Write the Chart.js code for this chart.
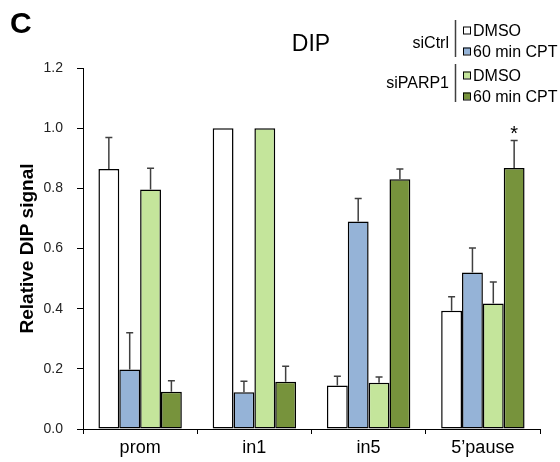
<!DOCTYPE html>
<html>
<head>
<meta charset="utf-8">
<script src="https://cdn.jsdelivr.net/npm/chart.js@4.4.1/dist/chart.umd.min.js"></script>
<style>
  html, body { margin: 0; padding: 0; background: #fff; }
  #wrap { position: relative; width: 560px; height: 462px; }
</style>
</head>
<body>
<div id="wrap"><canvas id="c"></canvas></div>
<script>
// ---- data ----
const categories = ['prom', 'in1', 'in5', '5\u2019pause'];
const seriesNames = ['DMSO', '60 min CPT', 'DMSO', '60 min CPT'];
const groupNames = ['siCtrl', 'siPARP1'];
const siCtrlDMSO = [0.864, 1.0, 0.145, 0.393];
const siCtrlCPT = [0.198, 0.122, 0.690, 0.520];
const siPARP1DMSO = [0.796, 1.0, 0.154, 0.417];
const siPARP1CPT = [0.124, 0.157, 0.830, 0.868];
const siCtrlDMSOErr = [0.105, 0, 0.030, 0.047];
const siCtrlCPTErr = [0.122, 0.037, 0.076, 0.082];
const siPARP1DMSOErr = [0.071, 0, 0.019, 0.072];
const siPARP1CPTErr = [0.036, 0.052, 0.034, 0.091];
const siPARP1CPTSig = ['', '', '', '*'];
const yTicks = [0, 0.2, 0.4, 0.6, 0.8, 1.0, 1.2];
const chartTitle = 'DIP';
const panelLabel = 'C';
const yTitle = 'Relative DIP signal';

const colors = ['#ffffff', '#95b3d7', '#c4e59b', '#77933c'];
const FONT = '"Liberation Sans", Arial, Helvetica, sans-serif';

const values = [siCtrlDMSO, siCtrlCPT, siPARP1DMSO, siPARP1CPT];
const errors = [siCtrlDMSOErr, siCtrlCPTErr, siPARP1DMSOErr, siPARP1CPTErr];
const sigs = [null, null, null, siPARP1CPTSig];

const datasets = values.map((v, i) => ({
  label: (i < 2 ? groupNames[0] : groupNames[1]) + ' ' + seriesNames[i],
  data: v,
  backgroundColor: colors[i],
  borderColor: '#000000',
  borderWidth: 1.5,
  borderSkipped: false,
  barPercentage: 1.0,
  categoryPercentage: 0.73
}));

const extrasPlugin = {
  id: 'extras',
  afterDatasetsDraw(chart) {
    const ctx = chart.ctx;
    const y = chart.scales.y;
    ctx.save();
    // error bars (upper only)
    datasets.forEach((ds, i) => {
      const meta = chart.getDatasetMeta(i);
      meta.data.forEach((bar, j) => {
        const e = errors[i][j];
        const topPx = y.getPixelForValue(values[i][j] + e);
        if (e > 0) {
          ctx.strokeStyle = '#404040';
          ctx.lineWidth = 1.5;
          ctx.beginPath();
          ctx.moveTo(bar.x, bar.y);
          ctx.lineTo(bar.x, topPx);
          ctx.moveTo(bar.x - 3.5, topPx);
          ctx.lineTo(bar.x + 3.5, topPx);
          ctx.stroke();
        }
        if (sigs[i] && sigs[i][j]) {
          ctx.fillStyle = '#000';
          ctx.font = '20px ' + FONT;
          ctx.textAlign = 'center';
          ctx.textBaseline = 'alphabetic';
          ctx.fillText(sigs[i][j], bar.x, topPx - 1);
        }
      });
    });
    ctx.restore();
  },
  afterDraw(chart) {
    const ctx = chart.ctx;
    ctx.save();
    ctx.fillStyle = '#000';
    ctx.textBaseline = 'alphabetic';
    // panel label
    ctx.font = 'bold 30px ' + FONT;
    ctx.textAlign = 'left';
    ctx.fillText(panelLabel, 10, 33);
    // title
    ctx.font = '23px ' + FONT;
    ctx.textAlign = 'center';
    ctx.fillText(chartTitle, 311, 50.5);
    // legend
    const rowBase = [36, 57, 81, 102];
    ctx.font = '16px ' + FONT;
    ctx.textAlign = 'right';
    ctx.fillText(groupNames[0], 449, 48);
    ctx.fillText(groupNames[1], 449, 88);
    ctx.strokeStyle = '#404040';
    ctx.lineWidth = 1.5;
    ctx.beginPath();
    ctx.moveTo(455.5, 20); ctx.lineTo(455.5, 57);
    ctx.moveTo(455.5, 64); ctx.lineTo(455.5, 102);
    ctx.stroke();
    ctx.textAlign = 'left';
    seriesNames.forEach((name, i) => {
      const b = rowBase[i];
      ctx.fillStyle = colors[i];
      ctx.fillRect(463, b - 9.5, 7, 7);
      ctx.strokeStyle = '#000';
      ctx.lineWidth = 1;
      ctx.strokeRect(463.5, b - 9, 7, 7);
      ctx.fillStyle = '#000';
      ctx.fillText(name, 473, b);
    });
    ctx.restore();
  }
};

new Chart(document.getElementById('c'), {
  type: 'bar',
  data: { labels: categories, datasets },
  options: {
    responsive: true,
    maintainAspectRatio: false,
    animation: false,
    layout: { padding: { left: 0, right: 20, top: 68, bottom: 0 } },
    plugins: { legend: { display: false }, tooltip: { enabled: false }, title: { display: false } },
    scales: {
      x: {
        offset: true,
        grid: { offset: true, drawOnChartArea: false, drawTicks: true, tickLength: 5, color: '#000', lineWidth: 1 },
        border: { color: '#000', width: 1 },
        ticks: { font: { size: 18, family: FONT }, color: '#000', padding: 3, maxRotation: 0 },
        afterFit(s) { s.height = 33; }
      },
      y: {
        min: 0,
        max: 1.2,
        afterBuildTicks(s) { s.ticks = yTicks.map(v => ({ value: v })); },
        ticks: { font: { size: 14, family: FONT }, color: '#222', padding: 14, callback: v => Number(v).toFixed(1) },
        grid: { drawOnChartArea: false, drawTicks: true, tickLength: 6, color: '#000', lineWidth: 1 },
        border: { color: '#000', width: 1 },
        title: { display: true, text: yTitle, color: '#000', font: { size: 19, weight: 'bold', family: FONT }, padding: { top: 16, bottom: 0 } },
        afterFit(s) { s.width = 83; }
      }
    }
  },
  plugins: [extrasPlugin]
});
</script>
</body>
</html>
